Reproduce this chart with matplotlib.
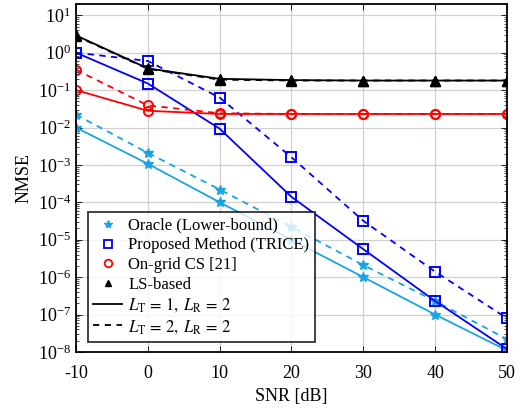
import matplotlib
matplotlib.use('Agg')
import matplotlib.pyplot as plt
import numpy as np
from matplotlib.lines import Line2D

plt.rcParams['font.family'] = ['Liberation Serif', 'DejaVu Serif']
plt.rcParams['mathtext.fontset'] = 'stix'

# SNR points [dB]
snr = [-10, 0, 10, 20, 30, 40, 50]

# NMSE, L_T = 1, L_R = 2 (solid)
oracle_1 = [1.0e-2, 1.07e-3, 1.0e-4, 1.0e-5, 1.0e-6, 1.0e-7, 1.1e-8]
trice_1 = [1.0, 0.15, 9.3e-3, 1.4e-4, 5.6e-6, 2.3e-7, 1.2e-8]
ongrid_1 = [0.10, 0.028, 0.023, 0.023, 0.023, 0.023, 0.023]
ls_1 = [2.9, 0.38, 0.20, 0.185, 0.18, 0.18, 0.18]

# NMSE, L_T = 2, L_R = 2 (dashed)
oracle_2 = [2.2e-2, 2.1e-3, 2.2e-4, 2.2e-5, 2.1e-6, 2.3e-7, 2.2e-8]
trice_2 = [1.0, 0.6, 0.063, 1.6e-3, 3.2e-5, 1.4e-6, 8.0e-8]
ongrid_2 = [0.35, 0.039, 0.024, 0.023, 0.023, 0.023, 0.023]
ls_2 = [2.8, 0.37, 0.19, 0.18, 0.18, 0.18, 0.18]

cyan = '#1aa3e3'
blue = '#0000ff'
red = '#ff0000'

fig = plt.figure(figsize=(5.23, 4.12), dpi=100)
ax = fig.add_axes([0.1453, 0.1456, 0.8241, 0.8447])

lw = 1.3
ms = 6.5
dash = (0, (3.5, 3))
series = [
    (oracle_1, oracle_2, cyan, '*', dict(markersize=ms + 1, markerfacecolor=cyan)),
    (trice_1, trice_2, blue, 's', dict(markersize=ms, markerfacecolor='none', markeredgewidth=1.4)),
    (ongrid_1, ongrid_2, red, 'o', dict(markersize=ms, markerfacecolor='none', markeredgewidth=1.4)),
    (ls_1, ls_2, 'black', '^', dict(markersize=ms, markerfacecolor='black')),
]
for v1, v2, c, m, kw in series:
    ax.plot(snr, v1, color=c, marker=m, linestyle='-', linewidth=lw, markeredgecolor=c, **kw)
    ax.plot(snr, v2, color=c, marker=m, linestyle=dash, linewidth=lw, markeredgecolor=c, **kw)

ax.set_yscale('log')
ax.set_xlim(-10, 50)
ax.set_ylim(1e-8, 20)
ax.set_xticks(snr)
ax.set_xticklabels(['-10', '0', '10', '20', '30', '40', '50'])
ax.set_yticks([10.0 ** k for k in range(-8, 2)])
ax.yaxis.set_minor_locator(matplotlib.ticker.LogLocator(base=10, subs=np.arange(2, 10), numticks=20))
ax.yaxis.set_minor_formatter(matplotlib.ticker.NullFormatter())
ax.grid(True, which='major', color='#d0d0d0', linewidth=0.9)
ax.set_axisbelow(True)
ax.tick_params(which='both', direction='in', top=True, right=True, labelsize=13)
ax.tick_params(which='major', length=4, width=0.6)
ax.tick_params(which='minor', length=2.5, width=0.5)
ax.tick_params(axis='x', which='major', pad=9)
for s in ax.spines.values():
    s.set_linewidth(1.3)

ax.set_xlabel('SNR [dB]', fontsize=13, labelpad=5)
ax.set_ylabel('NMSE', fontsize=13, labelpad=4)

handles = [
    Line2D([], [], color=cyan, marker='*', linestyle='none', markersize=6),
    Line2D([], [], color=blue, marker='s', linestyle='none', markersize=5.5, markerfacecolor='none', markeredgewidth=1.3),
    Line2D([], [], color=red, marker='o', linestyle='none', markersize=5.5, markerfacecolor='none', markeredgewidth=1.3),
    Line2D([], [], color='black', marker='^', linestyle='none', markersize=5),
    Line2D([], [], color='black', linestyle='-', linewidth=1.3),
    Line2D([], [], color='black', linestyle=dash, linewidth=1.3),
]
labels = [
    'Oracle (Lower-bound)',
    'Proposed Method (TRICE)',
    'On-grid CS [21]',
    'LS-based',
    r'$L_{\mathrm{T}}\,=\,1,\;L_{\mathrm{R}}\,=\,2$',
    r'$L_{\mathrm{T}}\,=\,2,\;L_{\mathrm{R}}\,=\,2$',
]
leg = ax.legend(handles, labels, loc='lower left', bbox_to_anchor=(0.027, 0.03),
                fontsize=12, frameon=True, fancybox=False, handlelength=1.7,
                handletextpad=0.4, labelspacing=0.22, borderpad=0.35, borderaxespad=0)
leg.get_frame().set_edgecolor('black')
leg.get_frame().set_linewidth(1.3)

fig.savefig('out.png', dpi=100)
